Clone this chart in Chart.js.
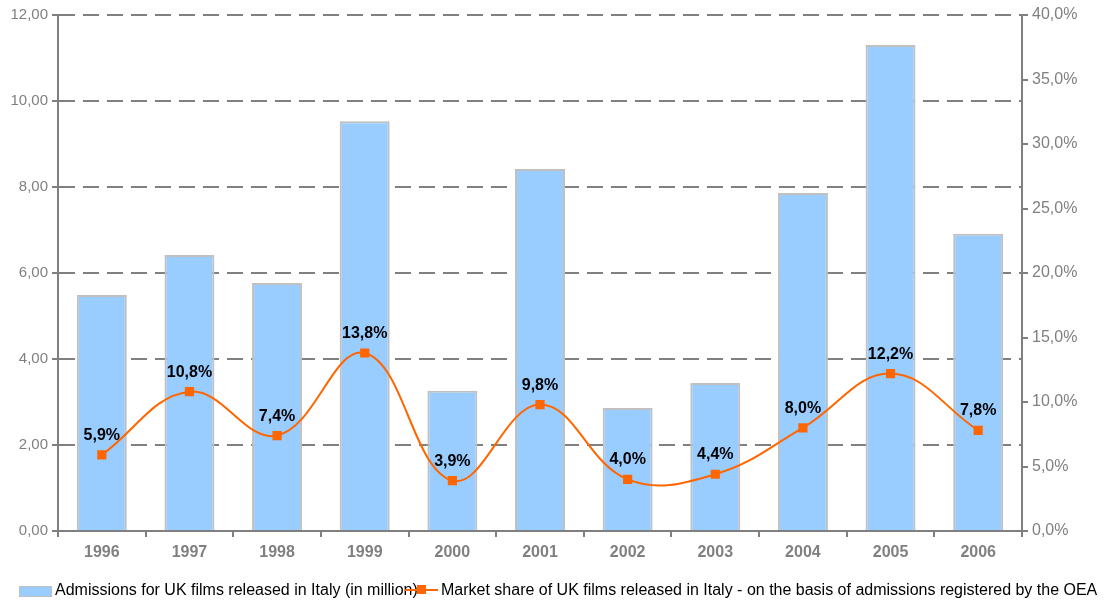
<!DOCTYPE html>
<html lang="en">
<head>
    <meta charset="UTF-8">
    <title>UK films in Italy</title>
    <script src="https://cdn.jsdelivr.net/npm/chart.js@4/dist/chart.umd.min.js"></script>
    <style>
        body { margin: 0; background: #fff; font-family: "Liberation Sans", Arial, sans-serif; }
        .wrap { position: relative; width: 1104px; height: 605px; }
        .legend { position: absolute; left: 0; top: 581px; font-size: 16px; line-height: 18px; color: #000; white-space: nowrap; }
        .legend span { position: absolute; top: 0; }
        .box { width: 31px; height: 9px; background: #99ccff; border: 1px solid #c0c0c0; top: 5px !important; }
        .ln { width: 33px; height: 2px; background: #ff6600; top: 8px !important; }
        .mk { width: 9px; height: 9px; background: #ff6600; top: 4px !important; }
    </style>
</head>
<body>
    <div class="wrap">
        <canvas id="chart" width="1104" height="605"></canvas>
        <div class="legend">
            <span class="box" style="left:19px"></span>
            <span style="left:55px">Admissions for UK films released in Italy (in million)</span>
            <span class="ln" style="left:405px"></span>
            <span class="mk" style="left:417px"></span>
            <span style="left:441px">Market share of UK films released in Italy - on the basis of admissions registered by the OEA</span>
        </div>
    </div>

    <script>
        const years = ['1996', '1997', '1998', '1999', '2000', '2001', '2002', '2003', '2004', '2005', '2006'];
        const admissions = [5.49, 6.42, 5.77, 9.53, 3.26, 8.42, 2.86, 3.44, 7.86, 11.30, 6.91];
        const marketShare = [5.9, 10.8, 7.4, 13.8, 3.9, 9.8, 4.0, 4.4, 8.0, 12.2, 7.8];
        const leftTicks = [0, 2, 4, 6, 8, 10, 12];
        const rightTicks = [0, 5, 10, 15, 20, 25, 30, 35, 40];

        const grey = '#808080';
        const fontFamily = '"Liberation Sans", Arial, sans-serif';
        const comma = (v, d) => v.toFixed(d).replace('.', ',');

        // percentage labels above the line markers
        const shareLabels = {
            id: 'shareLabels',
            afterDatasetsDraw(chart) {
                const meta = chart.getDatasetMeta(0);
                const ctx = chart.ctx;
                ctx.save();
                ctx.font = 'bold 16px ' + fontFamily;
                ctx.fillStyle = '#000';
                ctx.textAlign = 'center';
                ctx.textBaseline = 'alphabetic';
                meta.data.forEach((pt, i) => {
                    ctx.fillText(comma(marketShare[i], 1) + '%', pt.x, pt.y - 15);
                });
                ctx.restore();
            }
        };

        new Chart(document.getElementById('chart'), {
            data: {
                labels: years,
                datasets: [
                    {
                        type: 'line',
                        label: 'Market share',
                        data: marketShare,
                        yAxisID: 'yRight',
                        borderColor: '#ff6600',
                        borderWidth: 2,
                        tension: 0.4,
                        pointStyle: 'rect',
                        pointRadius: 6.5,
                        pointBackgroundColor: '#ff6600',
                        pointBorderWidth: 0,
                        order: 0
                    },
                    {
                        type: 'bar',
                        label: 'Admissions',
                        data: admissions,
                        yAxisID: 'yLeft',
                        backgroundColor: '#99ccff',
                        borderColor: '#c0c0c0',
                        borderWidth: 2,
                        categoryPercentage: 1,
                        barPercentage: 0.57,
                        order: 1
                    }
                ]
            },
            options: {
                responsive: false,
                animation: false,
                layout: { padding: { top: 15, bottom: 44, left: 0, right: 0 } },
                plugins: { legend: { display: false }, tooltip: { enabled: false } },
                scales: {
                    x: {
                        offset: true,
                        afterFit(s) { s.height = 30; },
                        grid: { offset: true, drawOnChartArea: false, color: grey, lineWidth: 2, tickLength: 6 },
                        border: { color: grey, width: 2 },
                        ticks: { color: grey, padding: 6, font: { family: fontFamily, size: 16, weight: 'bold' } }
                    },
                    yLeft: {
                        position: 'left',
                        min: 0,
                        max: 12,
                        afterFit(s) { s.width = 58; },
                        afterBuildTicks(s) { s.ticks = leftTicks.map(v => ({ value: v })); },
                        grid: { color: grey, lineWidth: 2, tickLength: 6, tickBorderDash: [] },
                        border: { color: grey, width: 2, dash: [16, 8] },
                        ticks: { color: grey, padding: 4, font: { family: fontFamily, size: 15 }, callback: v => comma(v, 2) }
                    },
                    yRight: {
                        position: 'right',
                        min: 0,
                        max: 40,
                        afterFit(s) { s.width = 82; },
                        afterBuildTicks(s) { s.ticks = rightTicks.map(v => ({ value: v })); },
                        grid: { drawOnChartArea: false, color: grey, lineWidth: 2, tickLength: 6 },
                        border: { color: grey, width: 2 },
                        ticks: { color: grey, padding: 4, font: { family: fontFamily, size: 16 }, callback: v => comma(v, 1) + '%' }
                    }
                }
            },
            plugins: [shareLabels]
        });
    </script>
</body>
</html>
